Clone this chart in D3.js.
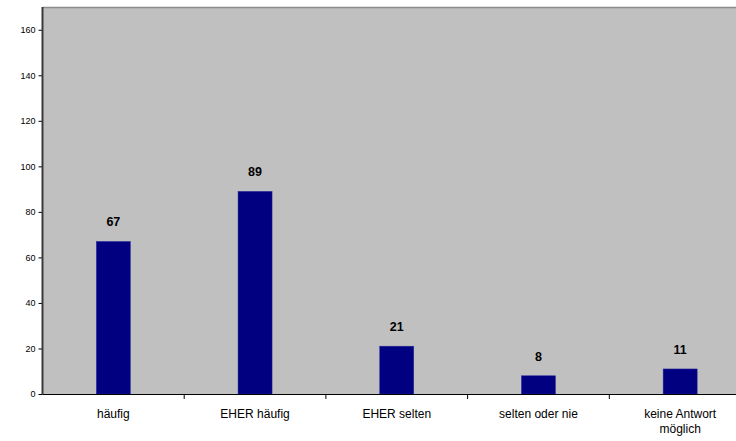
<!DOCTYPE html>
<html>
<head>
<meta charset="utf-8">
<script src="https://cdn.jsdelivr.net/npm/d3@7"></script>
<style>
body { margin:0; background:#fff; }
text { font-family: "Liberation Sans", Arial, sans-serif; }
</style>
</head>
<body>
<svg id="chart" width="736" height="441"></svg>
<script>
var categories = ['häufig', 'EHER häufig', 'EHER selten', 'selten oder nie', 'keine Antwort möglich'];
var values = [67, 89, 21, 8, 11];
var yTicks = [0, 20, 40, 60, 80, 100, 120, 140, 160];

var svg = d3.select('#chart');
var plotLeft = 42.5, plotRight = 751, plotTop = 7, plotBottom = 394;

var xScale = d3.scaleBand().domain(categories).range([plotLeft, plotRight]).paddingInner(0).paddingOuter(0);
var yScale = d3.scaleLinear().domain([0, 170]).range([plotBottom, plotTop]);

// plot background
svg.append('rect')
	.attr('x', plotLeft).attr('y', plotTop)
	.attr('width', plotRight - plotLeft).attr('height', plotBottom - plotTop)
	.attr('fill', '#c0c0c0');
svg.append('line')
	.attr('x1', plotLeft).attr('x2', plotRight).attr('y1', plotTop + 0.5).attr('y2', plotTop + 0.5)
	.attr('stroke', '#8c8c8c').attr('stroke-width', 1.5);

// bars
var bw = xScale.bandwidth() * 0.24;
svg.selectAll('rect.bar').data(values).enter().append('rect')
	.attr('class', 'bar')
	.attr('x', function(d, i){ return xScale(categories[i]) + xScale.bandwidth()/2 - bw/2; })
	.attr('y', function(d){ return yScale(d); })
	.attr('width', bw)
	.attr('height', function(d){ return plotBottom - yScale(d); })
	.attr('fill', '#000080')
	.attr('stroke', '#2a2aa0').attr('stroke-width', 0.5);

// value labels
svg.selectAll('text.val').data(values).enter().append('text')
	.attr('class', 'val')
	.attr('x', function(d, i){ return xScale(categories[i]) + xScale.bandwidth()/2; })
	.attr('y', function(d){ return yScale(d) - 15; })
	.attr('text-anchor', 'middle')
	.attr('font-size', '12.5px').attr('font-weight', 'bold')
	.text(function(d){ return d; });

// y axis
var yAxis = d3.axisLeft(yScale).tickValues(yTicks).tickSize(4).tickPadding(3);
var gy = svg.append('g').attr('transform', 'translate(' + plotLeft + ',0)').call(yAxis);
gy.select('.domain').remove();
gy.selectAll('.tick text').attr('font-size', '9px').attr('fill', '#000').style('font-family', '"Liberation Sans", Arial, sans-serif');
gy.selectAll('.tick line').attr('stroke', '#000');
svg.append('line')
	.attr('x1', plotLeft).attr('x2', plotLeft).attr('y1', plotTop).attr('y2', plotBottom)
	.attr('stroke', '#3a3a3a').attr('stroke-width', 2);

// x axis
svg.append('line')
	.attr('x1', plotLeft).attr('x2', plotRight).attr('y1', plotBottom + 0.5).attr('y2', plotBottom + 0.5)
	.attr('stroke', '#000').attr('stroke-width', 1);
svg.selectAll('line.xtick').data(categories).enter().append('line')
	.attr('x1', function(d){ return xScale(d) + xScale.bandwidth(); })
	.attr('x2', function(d){ return xScale(d) + xScale.bandwidth(); })
	.attr('y1', plotBottom).attr('y2', plotBottom + 5)
	.attr('stroke', '#000');

var xl = svg.selectAll('text.cat').data(categories).enter().append('text')
	.attr('class', 'cat')
	.attr('text-anchor', 'middle')
	.attr('font-size', '12px');
xl.each(function(d){
	var t = d3.select(this);
	var cx = xScale(d) + xScale.bandwidth()/2;
	var lines = d == 'keine Antwort möglich' ? ['keine Antwort', 'möglich'] : [d];
	lines.forEach(function(s, k){
		t.append('tspan').attr('x', cx).attr('y', 418 + k*15).text(s);
	});
});
</script>
</body>
</html>
